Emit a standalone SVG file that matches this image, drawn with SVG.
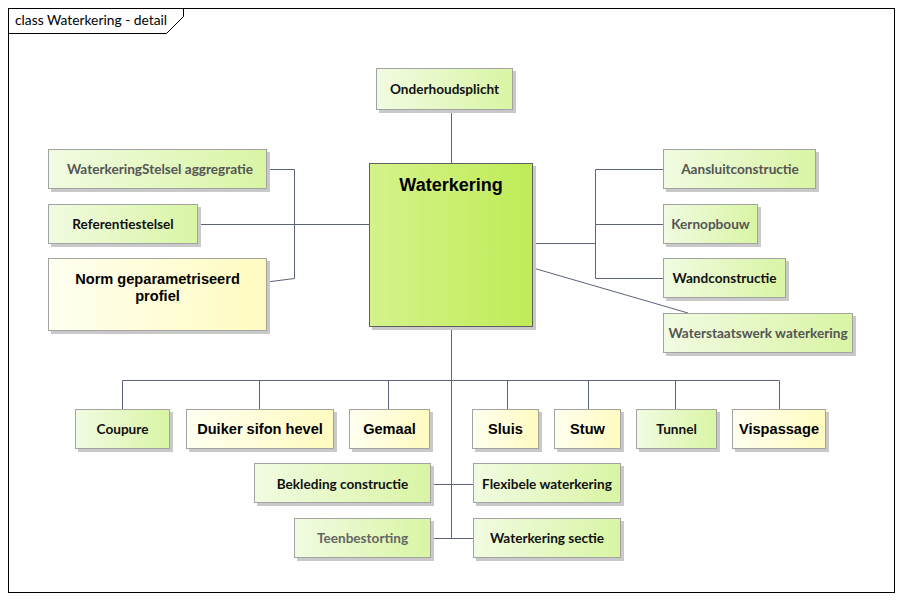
<svg xmlns="http://www.w3.org/2000/svg" width="903" height="601" viewBox="0 0 903 601">
  <defs>
    <linearGradient id="gGreen" x1="0" y1="0" x2="1" y2="0">
      <stop offset="0" stop-color="#f1fbe2"/>
      <stop offset="1" stop-color="#d9f5a4"/>
    </linearGradient>
    <linearGradient id="gYellow" x1="0" y1="0" x2="1" y2="0">
      <stop offset="0" stop-color="#fffff0"/>
      <stop offset="1" stop-color="#fffbc0"/>
    </linearGradient>
    <linearGradient id="gMain" x1="0" y1="0" x2="1" y2="0">
      <stop offset="0" stop-color="#d5f28c"/>
      <stop offset="1" stop-color="#bfec57"/>
    </linearGradient>
  </defs>
  <style>
    .shadow { fill: #c9c9c9; }
    .box { stroke: #a3a3a3; stroke-width: 1; }
    .green { fill: url(#gGreen); }
    .yellow { fill: url(#gYellow); }
    .main { fill: url(#gMain); stroke: #5f5f5f; }
    .lbl { font-family: Lato, "Open Sans", sans-serif; font-weight: bold; font-size: 13.6px; text-anchor: middle; fill: #111; }
    .dim { fill: #555; }
    .faint { fill: #666; }
    .arial { font-family: "Liberation Sans", Arial, sans-serif; font-weight: bold; font-size: 14.6px; text-anchor: middle; fill: #000; }
    .conn { stroke: #5b6479; stroke-width: 1; fill: none; }
  </style>

  <rect x="0" y="0" width="903" height="601" fill="#ffffff"/>

  <!-- diagram frame -->
  <g id="frame">
    <rect x="8.5" y="8.5" width="886" height="584" fill="none" stroke="#000" stroke-width="1"/>
    <path d="M8.5 33.5 H166.5 L183.5 16.5 V8.5" fill="none" stroke="#000" stroke-width="1"/>
    <text x="15" y="25" font-family="Lato, 'Open Sans', sans-serif" font-size="13.8px" fill="#000">class Waterkering - detail</text>
  </g>

  <!-- connectors -->
  <g id="connectors">
    <path class="conn" d="M451.5 110 V163"/>
    <path class="conn" d="M267 169.5 H294.5 V278.5 L267 282"/>
    <path class="conn" d="M198 224.5 H369"/>
    <path class="conn" d="M533 243.5 H595.5"/>
    <path class="conn" d="M663 169.5 H595.5 V278.5 H663"/>
    <path class="conn" d="M595.5 224.5 H663"/>
    <path class="conn" d="M533 268 L688 313"/>
    <path class="conn" d="M451.5 327 V538.5"/>
    <path class="conn" d="M122.5 409 V380.5 H779.5 V409"/>
    <path class="conn" d="M259.5 380.5 V409"/>
    <path class="conn" d="M388.5 380.5 V409"/>
    <path class="conn" d="M507.5 380.5 V409"/>
    <path class="conn" d="M588.5 380.5 V409"/>
    <path class="conn" d="M675.5 380.5 V409"/>
    <path class="conn" d="M431 484.5 H473"/>
    <path class="conn" d="M431 538.5 H473"/>
  </g>

  <g id="onderhoudsplicht">
    <rect class="shadow" x="379" y="71" width="137" height="42"/>
    <rect class="box green" x="376.5" y="68.5" width="136" height="41"/>
    <text class="lbl" x="444.5" y="93.5">Onderhoudsplicht</text>
  </g>

  <g id="waterkering">
    <rect class="shadow" x="372" y="166" width="164" height="164"/>
    <rect class="main" x="369.5" y="163.5" width="163" height="163"/>
    <text x="451" y="191" font-family="'Liberation Sans', Arial, sans-serif" font-weight="bold" font-size="18px" text-anchor="middle" fill="#000">Waterkering</text>
  </g>

  <g id="waterkeringstelsel-aggregratie">
    <rect class="shadow" x="51" y="152" width="219" height="40"/>
    <rect class="box green" x="48.5" y="149.5" width="218" height="39"/>
    <text class="lbl dim" x="160" y="174">WaterkeringStelsel aggregratie</text>
  </g>

  <g id="referentiestelsel">
    <rect class="shadow" x="51" y="207" width="150" height="40"/>
    <rect class="box green" x="48.5" y="204.5" width="149" height="39"/>
    <text class="lbl" x="123" y="229">Referentiestelsel</text>
  </g>

  <g id="norm-geparametriseerd-profiel">
    <rect class="shadow" x="51" y="261" width="219" height="73"/>
    <rect class="box yellow" x="48.5" y="258.5" width="218" height="72"/>
    <text class="arial" x="157.5" y="284">Norm geparametriseerd</text>
    <text class="arial" x="157.5" y="301">profiel</text>
  </g>

  <g id="aansluitconstructie">
    <rect class="shadow" x="666" y="152" width="153" height="40"/>
    <rect class="box green" x="663.5" y="149.5" width="152" height="39"/>
    <text class="lbl dim" x="740" y="174">Aansluitconstructie</text>
  </g>

  <g id="kernopbouw">
    <rect class="shadow" x="666" y="207" width="95" height="40"/>
    <rect class="box green" x="663.5" y="204.5" width="94" height="39"/>
    <text class="lbl dim" x="710.5" y="229">Kernopbouw</text>
  </g>

  <g id="wandconstructie">
    <rect class="shadow" x="666" y="261" width="123" height="40"/>
    <rect class="box green" x="663.5" y="258.5" width="122" height="39"/>
    <text class="lbl" x="724.5" y="283">Wandconstructie</text>
  </g>

  <g id="waterstaatswerk-waterkering">
    <rect class="shadow" x="666" y="316" width="190" height="40"/>
    <rect class="box green" x="663.5" y="313.5" width="189" height="39"/>
    <text class="lbl dim" x="758" y="338">Waterstaatswerk waterkering</text>
  </g>

  <g id="coupure">
    <rect class="shadow" x="78" y="412" width="95" height="40"/>
    <rect class="box green" x="75.5" y="409.5" width="94" height="39"/>
    <text class="lbl" x="122.5" y="434">Coupure</text>
  </g>

  <g id="duiker-sifon-hevel">
    <rect class="shadow" x="189" y="412" width="148" height="40"/>
    <rect class="box yellow" x="186.5" y="409.5" width="147" height="39"/>
    <text class="arial" x="260" y="434">Duiker sifon hevel</text>
  </g>

  <g id="gemaal">
    <rect class="shadow" x="352" y="412" width="81" height="40"/>
    <rect class="box yellow" x="349.5" y="409.5" width="80" height="39"/>
    <text class="arial" x="389.5" y="434">Gemaal</text>
  </g>

  <g id="sluis">
    <rect class="shadow" x="475" y="412" width="67" height="40"/>
    <rect class="box yellow" x="472.5" y="409.5" width="66" height="39"/>
    <text class="arial" x="505.5" y="434">Sluis</text>
  </g>

  <g id="stuw">
    <rect class="shadow" x="557" y="412" width="67" height="40"/>
    <rect class="box yellow" x="554.5" y="409.5" width="66" height="39"/>
    <text class="arial" x="587.5" y="434">Stuw</text>
  </g>

  <g id="tunnel">
    <rect class="shadow" x="639" y="412" width="81" height="40"/>
    <rect class="box green" x="636.5" y="409.5" width="80" height="39"/>
    <text class="lbl" x="676.5" y="434">Tunnel</text>
  </g>

  <g id="vispassage">
    <rect class="shadow" x="735" y="412" width="94" height="40"/>
    <rect class="box yellow" x="732.5" y="409.5" width="93" height="39"/>
    <text class="arial" x="779" y="434">Vispassage</text>
  </g>

  <g id="bekleding-constructie">
    <rect class="shadow" x="257" y="466" width="177" height="40"/>
    <rect class="box green" x="254.5" y="463.5" width="176" height="39"/>
    <text class="lbl" x="342.5" y="488.5">Bekleding constructie</text>
  </g>

  <g id="flexibele-waterkering">
    <rect class="shadow" x="476" y="466" width="148" height="40"/>
    <rect class="box green" x="473.5" y="463.5" width="147" height="39"/>
    <text class="lbl" x="547" y="488.5">Flexibele waterkering</text>
  </g>

  <g id="teenbestorting">
    <rect class="shadow" x="297" y="521" width="137" height="40"/>
    <rect class="box green" x="294.5" y="518.5" width="136" height="39"/>
    <text class="lbl faint" x="362.5" y="543">Teenbestorting</text>
  </g>

  <g id="waterkering-sectie">
    <rect class="shadow" x="476" y="521" width="148" height="40"/>
    <rect class="box green" x="473.5" y="518.5" width="147" height="39"/>
    <text class="lbl" x="547" y="543">Waterkering sectie</text>
  </g>
</svg>
